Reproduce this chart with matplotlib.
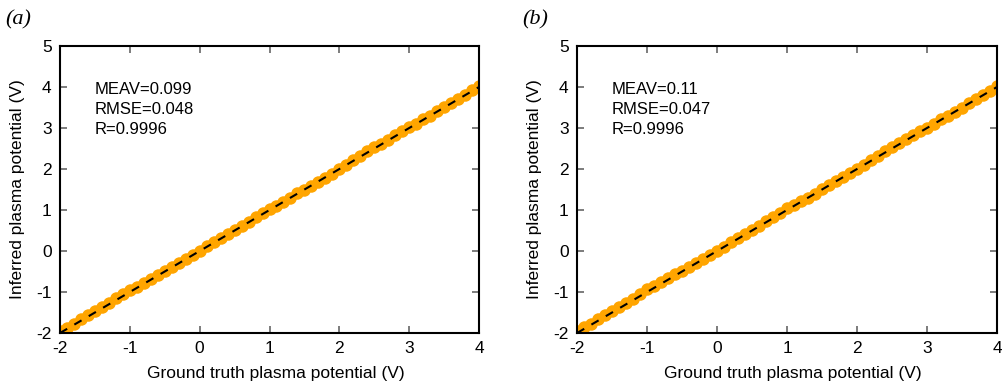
import matplotlib.pyplot as plt

plt.rcParams['font.family'] = ['Liberation Sans', 'DejaVu Sans']
plt.rcParams['axes.unicode_minus'] = False

# ground truth plasma potential (V)
truth = [-2.0, -1.9, -1.8, -1.7, -1.6, -1.5, -1.4, -1.3, -1.2, -1.1,
         -1.0, -0.9, -0.8, -0.7, -0.6, -0.5, -0.4, -0.3, -0.2, -0.1,
         0.0, 0.1, 0.2, 0.3, 0.4, 0.5, 0.6, 0.7, 0.8, 0.9,
         1.0, 1.1, 1.2, 1.3, 1.4, 1.5, 1.6, 1.7, 1.8, 1.9,
         2.0, 2.1, 2.2, 2.3, 2.4, 2.5, 2.6, 2.7, 2.8, 2.9,
         3.0, 3.1, 3.2, 3.3, 3.4, 3.5, 3.6, 3.7, 3.8, 3.9, 4.0]

# inferred plasma potential, panel (a)
inferred_a = [-1.96, -1.87, -1.78, -1.66, -1.57, -1.46, -1.37, -1.26, -1.15, -1.04,
              -0.94, -0.87, -0.77, -0.68, -0.58, -0.48, -0.39, -0.28, -0.19, -0.09,
              0.01, 0.12, 0.21, 0.31, 0.42, 0.52, 0.61, 0.71, 0.82, 0.93,
              1.02, 1.11, 1.19, 1.30, 1.41, 1.50, 1.59, 1.68, 1.79, 1.88,
              1.99, 2.11, 2.21, 2.32, 2.43, 2.53, 2.62, 2.71, 2.82, 2.93,
              3.02, 3.11, 3.21, 3.30, 3.41, 3.52, 3.61, 3.70, 3.81, 3.92, 4.03]

# inferred plasma potential, panel (b)
inferred_b = [-1.95, -1.86, -1.77, -1.67, -1.57, -1.47, -1.37, -1.27, -1.16, -1.05,
              -0.93, -0.86, -0.76, -0.66, -0.57, -0.48, -0.38, -0.29, -0.19, -0.09,
              0.00, 0.10, 0.21, 0.31, 0.42, 0.52, 0.62, 0.72, 0.82, 0.93,
              1.04, 1.13, 1.21, 1.30, 1.40, 1.51, 1.61, 1.70, 1.80, 1.90,
              2.01, 2.11, 2.21, 2.32, 2.43, 2.54, 2.63, 2.72, 2.82, 2.92,
              3.01, 3.11, 3.21, 3.30, 3.40, 3.50, 3.61, 3.71, 3.81, 3.91, 4.02]

labels = ['(a)', '(b)']
stats = [['MEAV=0.099', 'RMSE=0.048', 'R=0.9996'],
         ['MEAV=0.11', 'RMSE=0.047', 'R=0.9996']]
ticks = [-2, -1, 0, 1, 2, 3, 4]
yticks = [-2, -1, 0, 1, 2, 3, 4, 5]

fig = plt.figure(figsize=(10.03, 3.85), dpi=100)
ax_a = fig.add_axes([0.0598, 0.135, 0.4178, 0.7455])
ax_b = fig.add_axes([0.5753, 0.135, 0.4187, 0.7455])

for ax, inf, lab, st in zip([ax_a, ax_b], [inferred_a, inferred_b], labels, stats):
    ax.plot(truth, inf, 'o', color='orange', markersize=9, markeredgewidth=0, zorder=2)
    ax.plot([-2, 4], [-2, 4], color='black', lw=1.5, dashes=(4, 4), zorder=3)
    ax.set_xlim(-2, 4)
    ax.set_ylim(-2, 5)
    ax.set_xticks(ticks)
    ax.set_yticks(yticks)
    ax.tick_params(direction='in', length=5, width=1.2, color='#666666',
                   top=True, right=True, labelsize=12.5, pad=6)
    for s in ax.spines.values():
        s.set_linewidth(1.5)
    ax.set_xlabel('Ground truth plasma potential (V)', fontsize=12.5, labelpad=5)
    ax.xaxis.set_label_coords(0.515, -0.115)
    ax.set_ylabel('Inferred plasma potential (V)', fontsize=12.5, labelpad=8)
    for i, t in enumerate(st):
        ax.text(0.083, 0.85 - i * 0.07, t, transform=ax.transAxes,
                fontsize=12, va='center')
    ax.text(-0.10, 1.09, lab, transform=ax.transAxes, fontsize=16,
            family='Liberation Serif', style='italic', va='center', ha='center')

fig.savefig('out.png', dpi=100)
